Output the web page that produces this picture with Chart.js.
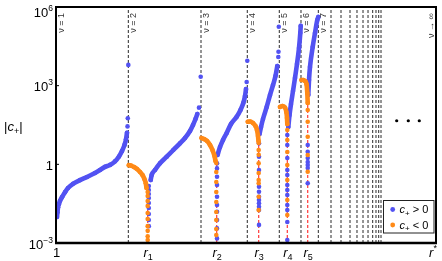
<!DOCTYPE html>
<html><head><meta charset="utf-8">
<script src="https://cdn.jsdelivr.net/npm/chart.js@4"></script>
<style>html,body{margin:0;padding:0;background:#fff}canvas{display:block}</style>
</head><body>
<canvas id="c" width="442" height="261"></canvas>
<script>
// ---------- data (x in arbitrary units: 0 = "1", 100 = r*) ----------
const xTickValues = [0, 24.13, 42.29, 53.34, 60.87, 66.24, 100];
const xTickLabels = ['1', 'r1', 'r2', 'r3', 'r4', 'r5', 'r*'];
const yTickValues = [1e-3, 1, 1e3, 1e6];
const yTickLabels = [['10', '\u22123'], ['1', ''], ['10', '3'], ['10', '6']];

const nuLines = [0, 19.03, 38.16, 50.34, 58.76, 64.47, 69.03, 72.37, 75.0, 77.37, 79.21, 80.79, 82.11, 83.34, 84.21, 84.92, 85.53];
const nuLabels = ['1', '2', '3', '4', '5', '6', '7'];
const nuInfLabel = '\u221E';
const rLines = [24.13, 42.29, 53.34, 60.87, 66.24];
const rLineTop = [0.19, 1.7, 8.5, 37, 280];

const blueSeg1 = [[0.26,0.0098],[0.39,0.015],[0.53,0.023],[0.79,0.031],[1.05,0.040],[1.58,0.056],[2.37,0.087],[3.16,0.125],[4.47,0.18],[6.32,0.25],[8.16,0.33],[10.26,0.47],[11.58,0.61],[12.89,0.80],[14.21,0.95],[15.53,1.3],[16.58,2.0],[17.37,3.2],[18.03,5.5],[18.42,9],[18.68,16]];
const blueSeg2 = [[24.92,0.252],[25.18,0.392],[26.05,0.607],[27.37,1.09],[29.13,1.95],[30.87,3.52],[32.63,6.3],[33.95,10.1],[35.26,18.7],[36.05,31.6],[36.71,53.6],[37.18,83]];
const blueSeg3 = [[42.5,2.27],[43.16,4.58],[43.95,8.5],[44.92,15.7],[46.05,34.5],[47.55,65],[48.55,118],[49.29,218],[49.74,404],[50.0,746]];
const blueSeg4 = [[53.55,14.3],[53.95,26.5],[54.47,53.6],[55.45,154],[56.32,441],[57.11,1060],[57.76,2335],[58.24,5620]];
const blueSeg5 = [[61.13,26.5],[61.45,76],[61.84,200],[62.37,625],[62.89,1960],[63.42,6700],[63.95,27300],[64.29,102000],[64.4,190000]];
const blueSeg6 = [[66.39,441],[66.58,1645],[66.84,5150],[67.55,29800],[68.16,102000],[68.76,319000],[69.03,416000]];
const blueDots = [[18.82,28],[18.89,57],[19.03,6200],[37.63,145],[38.08,2200],[50.18,1380],[50.34,8950],[58.5,12400],[58.55,19700],[58.63,177000]];

const orangeSeg1 = [[19.16,0.93],[19.74,0.89],[20.53,0.79],[21.32,0.66],[22.11,0.51],[22.76,0.39],[23.29,0.27],[23.63,0.19],[23.82,0.125]];
const orangeSeg2 = [[38.29,10.1],[38.95,9.2],[39.74,7.8],[40.53,5.46],[41.18,3.52],[41.71,2.08],[41.97,1.34]];
const orangeSeg3 = [[50.47,42],[51.05,43],[51.84,37.6],[52.5,29],[52.89,20.4],[53.16,12],[53.29,7.7]];
const orangeSeg4 = [[58.95,154],[59.61,168],[60.26,147],[60.61,99],[60.79,58],[60.87,34.5]];
const orangeSeg5 = [[64.61,1645],[65.08,1645],[65.53,1507],[65.92,1157],[66.13,525],[66.24,218]];

// scattered points along the r_n lines
const r1Orange = [0.088,0.062,0.040,0.026,0.0139,0.0082,0.0044,0.0029,0.0018,0.0013];
const r1Blue   = [0.149,0.105,0.074,0.052,0.0335,0.0216,0.0127,0.0075,0.0044];
const r2Orange = [1.12,0.51,0.212,0.088,0.0366,0.0152,0.0075,0.0034,0.0020];
const r2Blue   = [1.09,0.70,0.337,0.163,0.058,0.028,0.0156,0.0075,0.0036,0.0015];
const r3Orange = [6.5,3.5,2.3,1.09,0.47,0.25,0.189,0.058,0.018];
const r3Blue   = [6.3,1.95,0.61,0.14,0.090,0.058,0.0435,0.0326,0.0242,0.018,0.0049];
const r4Orange = [20.4,8.5,2.95,0.94,0.25,0.0435,0.0117];
const r4Blue   = [13.1,5.46,1.74,0.61,0.39,0.163,0.105,0.068,0.028,0.018,0.0063,0.0013];
const r5Orange = [118,42,11.3,2.27,0.52];
const r5Blue   = [5.46,3.03,1.74,1.22,0.94,0.72,0.189];
const r1BlueX = 24.42, r2BlueX = 42.37, r2OrangeX = 42.18, r3BlueX = 53.42;

const ellipsisDots = [[89.66,46],[92.71,46],[95.6,46]];

// ---------- styles ----------
const BLUE = '#5252f2', ORANGE = '#ff8a17';
const F = '"Liberation Sans", Arial, sans-serif';

const P = a => a.map(([x, y]) => ({x, y}));
const COL = (x, vals) => vals.map(y => ({x, y}));

const datasets = [];
function curve(arr, c, order) {
  datasets.push({data: P(arr), showLine: true, borderColor: c, backgroundColor: c, borderWidth: 4.6,
    borderCapStyle: 'round', borderJoinStyle: 'round', cubicInterpolationMode: 'monotone',
    pointRadius: 2.3, pointBorderWidth: 0, pointBackgroundColor: c, order});
}
function dots(data, c, order, r) {
  datasets.push({data, showLine: false, backgroundColor: c, pointBackgroundColor: c, borderColor: c,
    pointRadius: r || 2.3, pointBorderWidth: 0, order});
}
nuLines.forEach(x => datasets.push({data: [{x, y: 1e-3}, {x, y: 1e6}], showLine: true, borderColor: '#2a2a2a',
  borderWidth: 1, borderDash: [3, 2], pointRadius: 0, order: 20}));
rLines.forEach((x, i) => datasets.push({data: [{x, y: 1e-3}, {x, y: rLineTop[i]}], showLine: true, borderColor: 'rgba(255,45,45,0.95)',
  borderWidth: 1.2, borderDash: [3, 2], pointRadius: 0, order: 15}));

[blueSeg1, blueSeg2, blueSeg3, blueSeg4, blueSeg5, blueSeg6].forEach(s => curve(s, BLUE, 3));
dots(P(blueDots), BLUE, 3);
dots(COL(r1BlueX, r1Blue), BLUE, 2);
dots(COL(r2BlueX, r2Blue), BLUE, 2);
dots(COL(r3BlueX, r3Blue), BLUE, 2);
dots(COL(rLines[3], r4Blue), BLUE, 2);
dots(COL(rLines[4], r5Blue), BLUE, 2);
[orangeSeg1, orangeSeg2, orangeSeg3, orangeSeg4, orangeSeg5].forEach(s => curve(s, ORANGE, 1));
dots(COL(rLines[0], r1Orange), ORANGE, 1);
dots(COL(r2OrangeX, r2Orange), ORANGE, 1);
dots(COL(rLines[2], r3Orange), ORANGE, 1);
dots(COL(rLines[3], r4Orange), ORANGE, 1);
dots(COL(rLines[4], r5Orange), ORANGE, 1);
dots(P(ellipsisDots), '#000', 0, 1.6);

function drawRuns(ctx, list, x, baseY, align) {
  let w = 0;
  list.forEach(r => { ctx.font = r.f; r.w = ctx.measureText(r.t).width; w += r.w; });
  let cx = align === 'right' ? x - w : align === 'center' ? x - w / 2 : x;
  list.forEach(r => { ctx.font = r.f; ctx.fillText(r.t, cx, baseY + (r.dy || 0)); cx += r.w; });
}

const deco = {
  id: 'deco',
  afterDraw(chart) {
    const {ctx, chartArea: a, scales: {x, y}} = chart;
    ctx.save();
    ctx.textAlign = 'left'; ctx.textBaseline = 'alphabetic';
    // nu labels (rotated, reading bottom to top)
    ctx.fillStyle = '#333';
    ctx.font = '9px ' + F;
    const drawNu = (px, txt) => {
      ctx.save(); ctx.translate(px, a.top + 6); ctx.rotate(-Math.PI / 2);
      ctx.textAlign = 'right'; ctx.textBaseline = 'middle'; ctx.fillText(txt, 0, 0); ctx.restore();
    };
    nuLabels.forEach((l, i) => drawNu(x.getPixelForValue(nuLines[i]) + 5.5, '\u03BD = ' + l));
    drawNu(x.getPixelForValue(100) - 4, '\u03BD \u2192 ' + nuInfLabel);

    // frame
    ctx.strokeStyle = '#000'; ctx.lineWidth = 2;
    ctx.strokeRect(a.left, a.top, a.right - a.left, a.bottom - a.top);
    ctx.lineWidth = 2.6;
    ctx.beginPath(); ctx.moveTo(a.left - 1, a.bottom); ctx.lineTo(a.right + 1, a.bottom); ctx.stroke();

    // y ticks
    ctx.fillStyle = '#000';
    yTickValues.forEach((v, i) => {
      const py = y.getPixelForValue(v);
      ctx.lineWidth = 1;
      ctx.beginPath(); ctx.moveTo(a.left, py); ctx.lineTo(a.left + 3, py); ctx.stroke();
      const c = Math.max(py + 1, a.top + 5.5);
      const [b, e] = yTickLabels[i];
      const runs = [{t: b, f: '13px ' + F}];
      if (e) runs.push({t: e, f: '8.5px ' + F, dy: -6});
      drawRuns(ctx, runs, a.left - 3, c + 4.6, 'right');
    });
    // x ticks
    xTickLabels.forEach((l, i) => {
      const px = x.getPixelForValue(xTickValues[i]);
      let runs;
      if (l === '1') runs = [{t: '1', f: '13px ' + F}];
      else if (l === 'r*') runs = [{t: 'r', f: 'italic 13px ' + F}, {t: '*', f: '9px ' + F, dy: -6}];
      else runs = [{t: 'r', f: 'italic 13px ' + F}, {t: l.slice(1), f: '9px ' + F, dy: 3}];
      drawRuns(ctx, runs, l === 'r*' ? px - 3 : px + 0.5, 257, 'center');
    });
    // y axis title |c+|
    drawRuns(ctx, [{t: '|', f: '13px ' + F}, {t: 'c', f: 'italic 13px ' + F}, {t: '+', f: '9px ' + F, dy: 3}, {t: '|', f: '13px ' + F}], 4, 131, 'left');

    // legend
    const lx = 383.5, ly = 200.5, lw = 50.5, lh = 32.5;
    ctx.fillStyle = '#fff'; ctx.fillRect(lx, ly, lw, lh);
    ctx.strokeStyle = '#222'; ctx.lineWidth = 1; ctx.strokeRect(lx, ly, lw, lh);
    [[BLUE, '> 0'], [ORANGE, '< 0']].forEach(([c, t], i) => {
      const cy = ly + 9 + i * 15.5;
      ctx.fillStyle = c; ctx.beginPath(); ctx.arc(lx + 9.2, cy, 2.4, 0, Math.PI * 2); ctx.fill();
      ctx.fillStyle = '#000';
      drawRuns(ctx, [{t: 'c', f: 'italic 11px ' + F}, {t: '+', f: '8px ' + F, dy: 2.5}, {t: ' ' + t, f: '11px ' + F}], lx + 16, cy + 3.8, 'left');
    });
    ctx.restore();
  }
};

new Chart(document.getElementById('c'), {
  type: 'scatter',
  data: {datasets},
  options: {
    responsive: false, animation: false, devicePixelRatio: 1, events: [],
    layout: {padding: {left: 56, right: 6, top: 7, bottom: 18}},
    scales: {
      x: {type: 'linear', min: 0, max: 100, display: false},
      y: {type: 'logarithmic', min: 1e-3, max: 1e6, display: false}
    },
    plugins: {legend: {display: false}, tooltip: {enabled: false}}
  },
  plugins: [deco]
});
</script>
</body></html>
